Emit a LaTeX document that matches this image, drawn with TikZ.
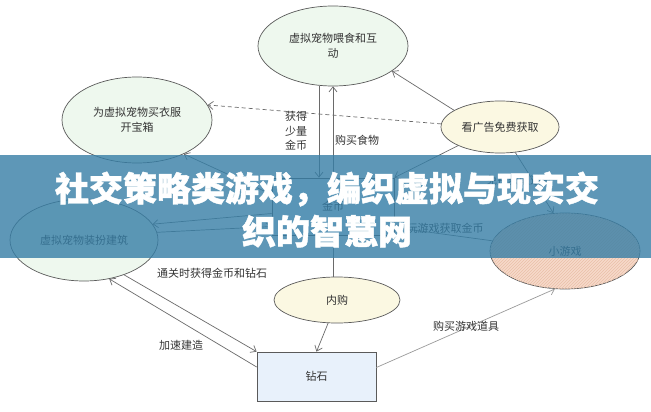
\documentclass[tikz,border=0pt]{standalone}
\usepackage{fontspec}
\setmainfont{Noto Sans CJK SC}
\newfontfamily\titlefont{Noto Sans CJK SC}[BoldFeatures={FakeBold=1.3}]
\usetikzlibrary{shapes.geometric,arrows.meta,patterns}
\definecolor{greenfill}{HTML}{EEF8EE}
\definecolor{yellowfill}{HTML}{FBF8E2}
\definecolor{bluefill}{HTML}{E8F1FB}
\definecolor{peach}{HTML}{F7DACA}
\definecolor{peachline}{HTML}{E9C0A8}
\definecolor{edgegray}{HTML}{6A6A6A}
\definecolor{lightedge}{HTML}{9A9A9A}
\definecolor{bordergray}{HTML}{5A5A5A}
\definecolor{textgray}{HTML}{333333}
\definecolor{bannerblue}{RGB}{54,126,166}
\begin{document}
\begin{tikzpicture}[x=1pt,y=-1pt, font=\fontsize{11}{14.5}\selectfont,
  ell/.style={ellipse, draw=bordergray, line width=0.7pt, inner sep=0pt, text=textgray, align=center},
  box/.style={rectangle, draw=bordergray, line width=0.7pt, fill=bluefill, text=textgray, inner sep=0pt},
  link/.style={draw=edgegray, line width=0.7pt},
  arr/.style={link, -{Straight Barb[length=5pt,width=8pt]}},
  lbl/.style={text=textgray, inner sep=1pt, align=center}]
\useasboundingbox (0,0) rectangle (651,412);
\fill[white] (0,0) rectangle (651,412);

% nodes
\node[ell, fill=greenfill, minimum width=150pt, minimum height=80pt] (feed) at (333,46) {虚拟宠物喂食和互\\动};
\node[ell, fill=greenfill, minimum width=150pt, minimum height=86pt] (clothes) at (137,120) {为虚拟宠物买衣服\\开宝箱};
\node[ell, fill=yellowfill, minimum width=118pt, minimum height=52pt] (ad) at (500,127) {看广告免费获取};
\node[ell, fill=greenfill, minimum width=148pt, minimum height=82pt] (decor) at (84,240) {虚拟宠物装扮建筑};
\node[ell, fill=peach, postaction={pattern=north east lines, pattern color=peachline}, minimum width=150pt, minimum height=76pt] (mini) at (565,251) {小游戏};
\node[ell, fill=yellowfill, minimum width=126pt, minimum height=46pt] (iap) at (337,300) {内购};
\node[box, minimum width=119pt, minimum height=49pt] (diamond) at (316.5,376.5) {钻石};
\node[box, minimum width=122pt, minimum height=57pt] (coin) at (333,206.5) {金币};

% connectors
\draw[arr] ([xshift=-14pt]feed.south) -- ([xshift=-14pt]coin.north);
\draw[arr] (coin.north) -- (feed.south);
\draw[arr] (ad.160) -- (feed.-23);
\draw[arr, dashed, dash pattern=on 4pt off 3pt] (ad.177) -- (clothes.12);
\draw[arr] (ad.204) -- (coin.north east);
\draw[arr] (ad.-59) -- (mini.107);
\draw[arr] ([yshift=12pt]coin.west) -- (clothes.-36);
\draw[arr] ([yshift=-7pt]coin.west) -- (decor.13);
\draw[arr] (decor.6) -- ([yshift=-20pt]coin.west);
\draw[arr] (decor.-41) -- (diamond.north west);
\draw[arr] ([yshift=9.5pt]diamond.west) -- (decor.-57);
\draw[arr] (iap.-111) -- (diamond.north);
\draw[arr] (coin.south |- iap.north) -- (coin.south);
\draw[arr] (mini.172) -- ([yshift=-21pt]coin.east);
\draw[arr, draw=lightedge] ([yshift=9pt]diamond.east) -- (mini.-105);

% connector labels
\node[lbl] (lcoin) at (296,131) {获得\\少量\\金币};
\node[lbl] (lfood) at (357,140) {购买食物};
\node[lbl] (lprop) at (519,180) {免费获取道具};
\node[lbl] (lplay) at (445,228) {玩游戏获取金币};
\node[lbl] (lclear) at (212,273) {通关时获得金币和钻石};
\node[lbl] (lspeed) at (181,345) {加速建造};
\node[lbl] (lbuy) at (466,326) {购买游戏道具};

% banner
\fill[bannerblue, opacity=0.8] (0,155) rectangle (651,258);
\node[text=white, font=\titlefont\fontsize{34}{43}\selectfont\bfseries, align=center, inner sep=0pt] (title) at (327,209.5) {社交策略类游戏，编织虚拟与现实交\\织的智慧网};
\end{tikzpicture}
\end{document}
